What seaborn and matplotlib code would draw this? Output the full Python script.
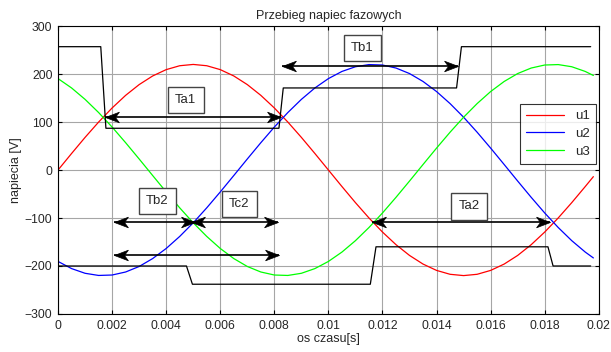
import matplotlib
matplotlib.use("Agg")
import matplotlib.pyplot as plt
import numpy as np
import pandas as pd
import seaborn as sns
from matplotlib.path import Path

# time samples [s]
t = [0.0000, 0.0005, 0.0010, 0.0015, 0.0020, 0.0025, 0.0030, 0.0035, 0.0040, 0.0045,
     0.0050, 0.0055, 0.0060, 0.0065, 0.0070, 0.0075, 0.0080, 0.0085, 0.0090, 0.0095,
     0.0100, 0.0105, 0.0110, 0.0115, 0.0120, 0.0125, 0.0130, 0.0135, 0.0140, 0.0145,
     0.0150, 0.0155, 0.0160, 0.0165, 0.0170, 0.0175, 0.0180, 0.0185, 0.0190, 0.0195,
     0.0198]

u1 = [0.0, 34.4, 68.0, 99.9, 129.3, 155.6, 178.0, 196.0, 209.2, 217.3,
      220.0, 217.3, 209.2, 196.0, 178.0, 155.6, 129.3, 99.9, 68.0, 34.4,
      0.0, -34.4, -68.0, -99.9, -129.3, -155.6, -178.0, -196.0, -209.2, -217.3,
      -220.0, -217.3, -209.2, -196.0, -178.0, -155.6, -129.3, -99.9, -68.0, -34.4,
      -13.8]
u2 = [-190.5, -205.4, -215.2, -219.7, -218.8, -212.5, -201.0, -184.5, -163.5, -138.4,
      -110.0, -78.8, -45.7, -11.5, 23.0, 56.9, 89.5, 119.8, 147.2, 171.0,
      190.5, 205.4, 215.2, 219.7, 218.8, 212.5, 201.0, 184.5, 163.5, 138.4,
      110.0, 78.8, 45.7, 11.5, -23.0, -56.9, -89.5, -119.8, -147.2, -171.0,
      -183.2]
u3 = [190.5, 171.0, 147.2, 119.8, 89.5, 56.9, 23.0, -11.5, -45.7, -78.8,
      -110.0, -138.4, -163.5, -184.5, -201.0, -212.5, -218.8, -219.7, -215.2, -205.4,
      -190.5, -171.0, -147.2, -119.8, -89.5, -56.9, -23.0, 11.5, 45.7, 78.8,
      110.0, 138.4, 163.5, 184.5, 201.0, 212.5, 218.8, 219.7, 215.2, 205.4,
      197.0]

# black step signals
top_t = [0.0, 0.00158, 0.00177, 0.00817, 0.00833, 0.01474, 0.01492, 0.0197]
top_v = [257, 257, 87, 87, 171, 171, 257, 257]
bottom_t = [0.0, 0.00475, 0.00497, 0.01155, 0.01176, 0.01812, 0.01831, 0.0197]
bottom_v = [-200, -200, -238, -238, -160, -160, -200, -200]

# double arrows (start, end, level)
arrow_x0 = [0.00173, 0.00830, 0.00207, 0.00493, 0.00207, 0.01161]
arrow_x1 = [0.00825, 0.01480, 0.00505, 0.00813, 0.00817, 0.01818]
arrow_y = [111, 217, -108, -108, -178, -108]

# annotation boxes
label_text = ["Ta1", "Tb1", "Tb2", "Tc2", "Ta2"]
label_x = [0.00472, 0.01125, 0.00367, 0.00670, 0.01520]
label_y = [146, 254, -65, -71, -76]

df = pd.DataFrame({
    "t": t * 3,
    "u": u1 + u2 + u3,
    "faza": ["u1"] * len(t) + ["u2"] * len(t) + ["u3"] * len(t),
})

sns.set_style("ticks")
plt.rcParams["font.family"] = ["Liberation Sans", "DejaVu Sans"]

fig = plt.figure(figsize=(6.11, 3.52), dpi=100)
ax = fig.add_axes([0.095, 0.108, 0.885, 0.818])

sns.lineplot(data=df, x="t", y="u", hue="faza",
             palette={"u1": "#ff0000", "u2": "#0000ff", "u3": "#00ff00"},
             linewidth=0.9, ax=ax)

ax.plot(top_t, top_v, color="black", linewidth=0.9)
ax.plot(bottom_t, bottom_v, color="black", linewidth=0.9)

# arrow heads with a notched back (tip at the origin)
head_r = Path([(0, 0), (-1, 0.38), (-0.72, 0), (-1, -0.38), (0, 0)],
              [Path.MOVETO, Path.LINETO, Path.LINETO, Path.LINETO, Path.CLOSEPOLY])
head_l = Path([(0, 0), (1, 0.38), (0.72, 0), (1, -0.38), (0, 0)],
              [Path.MOVETO, Path.LINETO, Path.LINETO, Path.LINETO, Path.CLOSEPOLY])

for x0, x1, y in zip(arrow_x0, arrow_x1, arrow_y):
    ax.plot([x0, x1], [y, y], color="black", linewidth=1.2, solid_capstyle="butt")
    ax.plot([x0], [y], marker=head_l, markersize=20, color="black",
            markeredgewidth=0.5, linestyle="none")
    ax.plot([x1], [y], marker=head_r, markersize=20, color="black",
            markeredgewidth=0.5, linestyle="none")

for txt, x, y in zip(label_text, label_x, label_y):
    ax.text(x, y, txt, ha="center", va="center", fontsize=9.5,
            bbox=dict(boxstyle="square,pad=0.55", facecolor="white",
                      edgecolor="#444444", linewidth=1.0))

ax.set_xlim(0, 0.02)
ax.set_ylim(-300, 300)
ax.set_xticks([0, 0.002, 0.004, 0.006, 0.008, 0.01, 0.012, 0.014, 0.016, 0.018, 0.02])
ax.set_xticklabels(["0", "0.002", "0.004", "0.006", "0.008", "0.01", "0.012",
                    "0.014", "0.016", "0.018", "0.02"])
ax.set_yticks(range(-300, 301, 100))
ax.grid(True, color="#a6a6a6", linestyle="-", linewidth=0.8)
ax.tick_params(direction="in", top=True, right=True, labelsize=8.7, length=3,
               color="black", pad=4)
for s in ax.spines.values():
    s.set_visible(True)
    s.set_color("black")
    s.set_linewidth(0.8)

ax.set_title("Przebieg napiec fazowych", fontsize=9, pad=5)
ax.set_xlabel("os czasu[s]", fontsize=9, labelpad=1)
ax.set_ylabel("napiecia [V]", fontsize=9, labelpad=2)

leg = ax.legend(loc="upper right", bbox_to_anchor=(0.994, 0.729), fontsize=9.5,
                frameon=True, fancybox=False, handlelength=2.9,
                borderpad=0.45, labelspacing=0.42, borderaxespad=0)
leg.get_frame().set_edgecolor("black")
leg.get_frame().set_linewidth(0.8)
leg.set_title(None)

fig.savefig("out.png", dpi=100)
